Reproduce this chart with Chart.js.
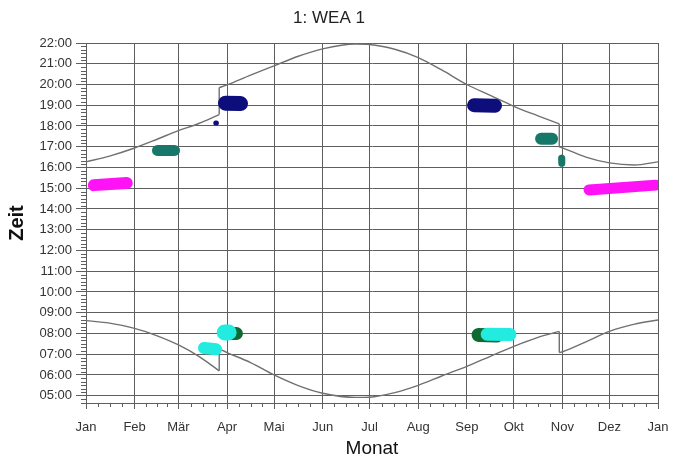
<!DOCTYPE html>
<html>
<head>
<meta charset="utf-8">
<script src="https://cdn.jsdelivr.net/npm/chart.js@4.4.0/dist/chart.umd.min.js"></script>
<style>
html, body { margin: 0; padding: 0; background: #fff; }
</style>
</head>
<body>
<canvas id="schattenKalender" width="674" height="462"></canvas>
<script>
const monate = ['Jan', 'Feb', 'Mär', 'Apr', 'Mai', 'Jun', 'Jul', 'Aug', 'Sep', 'Okt', 'Nov', 'Dez', 'Jan'];
const monatsTage = [0, 31, 59, 90, 120, 151, 181, 212, 243, 273, 304, 334, 365];
const stunden = [5, 6, 7, 8, 9, 10, 11, 12, 13, 14, 15, 16, 17, 18, 19, 20, 21, 22];

// Tag im Jahr / Uhrzeit in Stunden; doppelter Tag = Zeitumstellung
const untergangTage = [0, 15, 31, 45, 59, 72, 85, 85, 90, 105, 120, 135, 151, 172, 181, 197, 212, 227, 243, 258, 273, 288, 302, 302, 304, 319, 334, 350, 365];
const untergangZeit = [16.27, 16.55, 16.94, 17.35, 17.78, 18.12, 18.55, 19.85, 19.98, 20.45, 20.9, 21.35, 21.72, 21.95, 21.93, 21.7, 21.3, 20.7, 20.0, 19.48, 18.95, 18.5, 18.1, 17.0, 16.95, 16.5, 16.22, 16.12, 16.27];
const aufgangTage = [0, 15, 31, 45, 59, 72, 85, 85, 90, 105, 120, 135, 151, 172, 181, 197, 212, 227, 243, 258, 273, 288, 302, 302, 304, 319, 334, 350, 365];
const aufgangZeit = [8.62, 8.5, 8.25, 7.9, 7.45, 6.9, 6.2, 7.25, 7.08, 6.6, 6.0, 5.5, 5.12, 4.92, 4.93, 5.15, 5.5, 5.95, 6.42, 6.9, 7.38, 7.8, 8.1, 7.08, 7.12, 7.6, 8.1, 8.45, 8.65];

// Schattenwurf-Zeiträume
const janTage = [5, 26], janZeit = [15.15, 15.25];
const febTage = [45.6, 56.5], febZeit = [16.82, 16.82];
const aprAbendTage = [89, 98.6], aprAbendZeit = [19.1, 19.08];
const aprPunktTage = [82.8, 83.2], aprPunktZeit = [18.15, 18.15];
const aprMorgenGruenTage = [91, 96], aprMorgenGruenZeit = [8.0, 8.0];
const aprMorgenCyanTage = [88.5, 91], aprMorgenCyanZeit = [8.05, 8.05];
const maerzMorgenTage = [75.3, 83], maerzMorgenZeit = [7.3, 7.24];
const sepAbendTage = [247.6, 261], sepAbendZeit = [19.0, 18.98];
const oktAbendTage = [290.4, 297.4], oktAbendZeit = [17.38, 17.38];
const novAbendTage = [303.5, 303.6], novAbendZeit = [16.45, 16.2];
const sepMorgenGruenTage = [250.5, 262], sepMorgenGruenZeit = [7.93, 7.9];
const sepMorgenCyanTage = [256, 270.5], sepMorgenCyanZeit = [7.96, 7.95];
const dezTage = [321, 363.5], dezZeit = [14.92, 15.15];

function punkte(tage, zeit) {
    return tage.map((t, i) => ({ x: t, y: zeit[i] }));
}

function abschnitte(tage, zeit) {
    const teile = [[]];
    const spruenge = [];
    tage.forEach((t, i) => {
        const p = { x: t, y: zeit[i] };
        const akt = teile[teile.length - 1];
        if (akt.length && akt[akt.length - 1].x === t) {
            spruenge.push([akt[akt.length - 1], p]);
            teile.push([p]);
        } else {
            akt.push(p);
        }
    });
    return { teile, spruenge };
}

function kurve(tage, zeit) {
    const { teile, spruenge } = abschnitte(tage, zeit);
    const sets = teile.map(d => ({
        data: d, borderColor: '#707070', borderWidth: 1.4, pointRadius: 0,
        cubicInterpolationMode: 'monotone', fill: false
    }));
    spruenge.forEach(d => sets.push({
        data: d, borderColor: '#707070', borderWidth: 1.4, pointRadius: 0, tension: 0, fill: false
    }));
    return sets;
}

function fleck(tage, zeit, farbe, breite) {
    return {
        data: punkte(tage, zeit), borderColor: farbe, borderWidth: breite, pointRadius: 0,
        borderCapStyle: 'round', borderJoinStyle: 'round', tension: 0, fill: false
    };
}

const magenta = '#ff12f5', navy = '#0d0d7c', teal = '#17786a', cyan = '#22ecdf', gruen = '#0f6a32';

const datasets = [
    fleck(janTage, janZeit, magenta, 12),
    fleck(dezTage, dezZeit, magenta, 11),
    fleck(febTage, febZeit, teal, 11),
    fleck(oktAbendTage, oktAbendZeit, teal, 12),
    fleck(novAbendTage, novAbendZeit, teal, 7),
    fleck(aprAbendTage, aprAbendZeit, navy, 15),
    fleck(aprPunktTage, aprPunktZeit, navy, 5),
    fleck(sepAbendTage, sepAbendZeit, navy, 14),
    fleck(aprMorgenCyanTage, aprMorgenCyanZeit, cyan, 16),
    fleck(aprMorgenGruenTage, aprMorgenGruenZeit, gruen, 13),
    fleck(maerzMorgenTage, maerzMorgenZeit, cyan, 12),
    fleck(sepMorgenCyanTage, sepMorgenCyanZeit, cyan, 13),
    fleck(sepMorgenGruenTage, sepMorgenGruenZeit, gruen, 14),
    ...kurve(untergangTage, untergangZeit),
    ...kurve(aufgangTage, aufgangZeit)
];

const gitter = '#5e5e5e';

const feinTeilung = {
    id: 'feinTeilung',
    afterDraw(chart) {
        const { ctx, scales: { x, y } } = chart;
        ctx.save();
        ctx.strokeStyle = gitter;
        ctx.lineWidth = 1;
        ctx.beginPath();
        for (let h = 4; h < 22; h++) {
            for (let m = 1; m < 6; m++) {
                const v = h + m / 6;
                if (v < y.min) continue;
                const py = Math.round(y.getPixelForValue(v)) + 0.5;
                ctx.moveTo(x.left - 5, py);
                ctx.lineTo(x.left, py);
            }
        }
        for (let i = 0; i < monatsTage.length - 1; i++) {
            const a = monatsTage[i], b = monatsTage[i + 1];
            for (let k = 1; k < 4; k++) {
                const px = Math.round(x.getPixelForValue(a + (b - a) * k / 4)) + 0.5;
                ctx.moveTo(px, y.bottom);
                ctx.lineTo(px, y.bottom + 4);
            }
        }
        ctx.stroke();
        ctx.restore();
    }
};

const schrift = 'Liberation Sans, Arial, sans-serif';

new Chart(document.getElementById('schattenKalender'), {
    type: 'line',
    data: { datasets },
    plugins: [feinTeilung],
    options: {
        responsive: false,
        animation: false,
        devicePixelRatio: 1,
        layout: { padding: { left: 0, right: 16, top: 0, bottom: 0 } },
        plugins: {
            legend: { display: false },
            tooltip: { enabled: false },
            title: {
                display: true,
                text: '1: WEA 1',
                color: '#222',
                font: { family: schrift, size: 17, weight: 'normal', lineHeight: 1.2 },
                padding: { top: 8, bottom: 14.6 }
            }
        },
        scales: {
            x: {
                type: 'linear',
                min: 0,
                max: 365,
                afterBuildTicks: s => { s.ticks = monatsTage.map(v => ({ value: v })); },
                afterFit: s => { s.height = 59; s.paddingLeft = 0; s.paddingRight = 0; },
                ticks: {
                    autoSkip: false,
                    maxRotation: 0,
                    color: '#333',
                    padding: 11,
                    font: { family: schrift, size: 13 },
                    callback: (v, i) => monate[i]
                },
                grid: { color: gitter, lineWidth: 1, tickLength: 6, tickColor: gitter },
                border: { color: gitter, width: 1 },
                title: {
                    display: true,
                    text: 'Monat',
                    color: '#111',
                    font: { family: schrift, size: 19, lineHeight: 1.2 },
                    padding: { top: 0, bottom: 2 }
                }
            },
            y: {
                type: 'linear',
                min: 4.65,
                max: 22,
                afterBuildTicks: s => { s.ticks = stunden.map(v => ({ value: v })); },
                afterFit: s => { s.width = 86; },
                ticks: {
                    color: '#333',
                    padding: 4,
                    font: { family: schrift, size: 13 },
                    callback: v => String(v).padStart(2, '0') + ':00'
                },
                grid: { color: gitter, lineWidth: 1, tickLength: 10, tickColor: gitter },
                border: { color: gitter, width: 1 },
                title: {
                    display: true,
                    text: 'Zeit',
                    color: '#111',
                    font: { family: schrift, size: 20, weight: 'bold', lineHeight: 1.2 },
                    padding: { top: 5, bottom: 0 }
                }
            }
        }
    }
});
</script>
</body>
</html>
